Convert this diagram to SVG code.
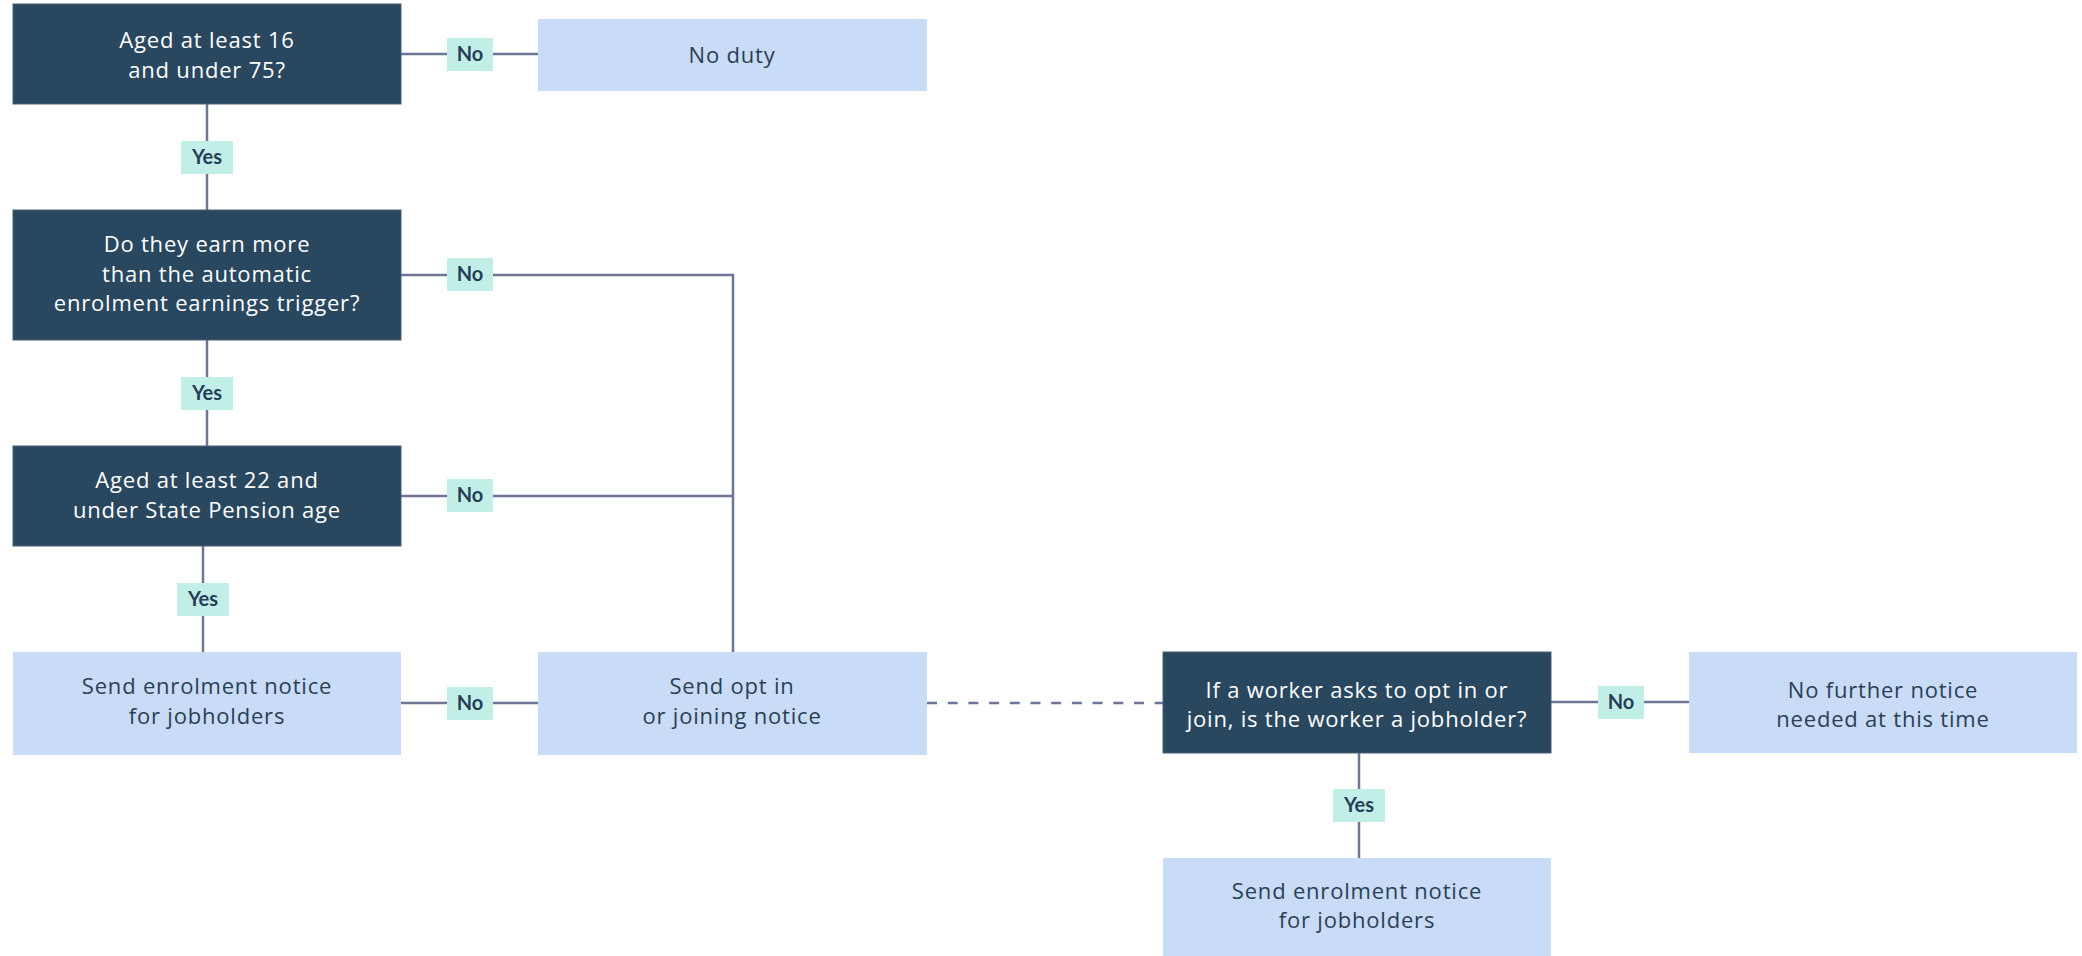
<svg xmlns="http://www.w3.org/2000/svg" width="2082" height="956" viewBox="0 0 2082 956">
<style>
.dark{fill:#29475f;stroke:#4a6077;stroke-width:1}
.light{fill:#c8dbf7}
.tw{font-family:"Open Sans","Liberation Sans",sans-serif;font-size:22px;letter-spacing:0.8px;fill:#ffffff;text-anchor:middle}
.td{font-family:"Open Sans","Liberation Sans",sans-serif;font-size:22px;letter-spacing:0.8px;fill:#2b3f55;text-anchor:middle}
.lb{fill:#c2eee8}
.lt{font-family:Lato,"Liberation Sans",sans-serif;font-size:20px;font-weight:bold;fill:#253f58;text-anchor:middle}
.ln{stroke:#6e7696;stroke-width:2.5;fill:none}
.dash{stroke-dasharray:10 10.7}
</style>
<rect width="2082" height="956" fill="#ffffff"/>
<g id="connectors">
<path class="ln" d="M401 54 H538"/>
<path class="ln" d="M207 104 V210"/>
<path class="ln" d="M401 275 H733 V652"/>
<path class="ln" d="M207 340 V446"/>
<path class="ln" d="M401 496 H733"/>
<path class="ln" d="M203 546 V652"/>
<path class="ln" d="M401 703 H538"/>
<path class="ln dash" d="M927 703 H1163"/>
<path class="ln" d="M1551 702 H1689"/>
<path class="ln" d="M1359 753 V858"/>
<g id="label-no1"><rect class="lb" x="447" y="38" width="46" height="33"/><text class="lt" x="470" y="61">No</text></g>
<g id="label-yes1"><rect class="lb" x="181" y="141" width="52" height="33"/><text class="lt" x="207" y="164">Yes</text></g>
<g id="label-no2"><rect class="lb" x="447" y="258" width="46" height="33"/><text class="lt" x="470" y="281">No</text></g>
<g id="label-yes2"><rect class="lb" x="181" y="377" width="52" height="33"/><text class="lt" x="207" y="400">Yes</text></g>
<g id="label-no3"><rect class="lb" x="447" y="479" width="46" height="33"/><text class="lt" x="470" y="502">No</text></g>
<g id="label-yes3"><rect class="lb" x="177" y="583" width="52" height="33"/><text class="lt" x="203" y="606">Yes</text></g>
<g id="label-no4"><rect class="lb" x="447" y="687" width="46" height="33"/><text class="lt" x="470" y="710">No</text></g>
<g id="label-no5"><rect class="lb" x="1598" y="686" width="46" height="33"/><text class="lt" x="1621" y="709">No</text></g>
<g id="label-yes4"><rect class="lb" x="1333" y="789" width="52" height="33"/><text class="lt" x="1359" y="812">Yes</text></g>
</g>
<g id="n1"><rect class="dark" x="13" y="4" width="388" height="100"/><text class="tw" x="207" y="48">Aged at least 16</text><text class="tw" x="207" y="78">and under 75?</text></g>
<g id="n2"><rect class="light" x="538" y="19" width="389" height="72"/><text class="td" x="732" y="63">No duty</text></g>
<g id="n3"><rect class="dark" x="13" y="210" width="388" height="130"/><text class="tw" x="207" y="252">Do they earn more</text><text class="tw" x="207" y="282">than the automatic</text><text class="tw" x="207" y="311">enrolment earnings trigger?</text></g>
<g id="n4"><rect class="dark" x="13" y="446" width="388" height="100"/><text class="tw" x="207" y="488">Aged at least 22 and</text><text class="tw" x="207" y="518">under State Pension age</text></g>
<g id="n5"><rect class="light" x="13" y="652" width="388" height="103"/><text class="td" x="207" y="694">Send enrolment notice</text><text class="td" x="207" y="724">for jobholders</text></g>
<g id="n6"><rect class="light" x="538" y="652" width="389" height="103"/><text class="td" x="732" y="694">Send opt in</text><text class="td" x="732" y="724">or joining notice</text></g>
<g id="n7"><rect class="dark" x="1163" y="652" width="388" height="101"/><text class="tw" x="1357" y="698">If a worker asks to opt in or</text><text class="tw" x="1357" y="727">join, is the worker a jobholder?</text></g>
<g id="n8"><rect class="light" x="1689" y="652" width="388" height="101"/><text class="td" x="1883" y="698">No further notice</text><text class="td" x="1883" y="727">needed at this time</text></g>
<g id="n9"><rect class="light" x="1163" y="858" width="388" height="98"/><text class="td" x="1357" y="899">Send enrolment notice</text><text class="td" x="1357" y="928">for jobholders</text></g>
</svg>
